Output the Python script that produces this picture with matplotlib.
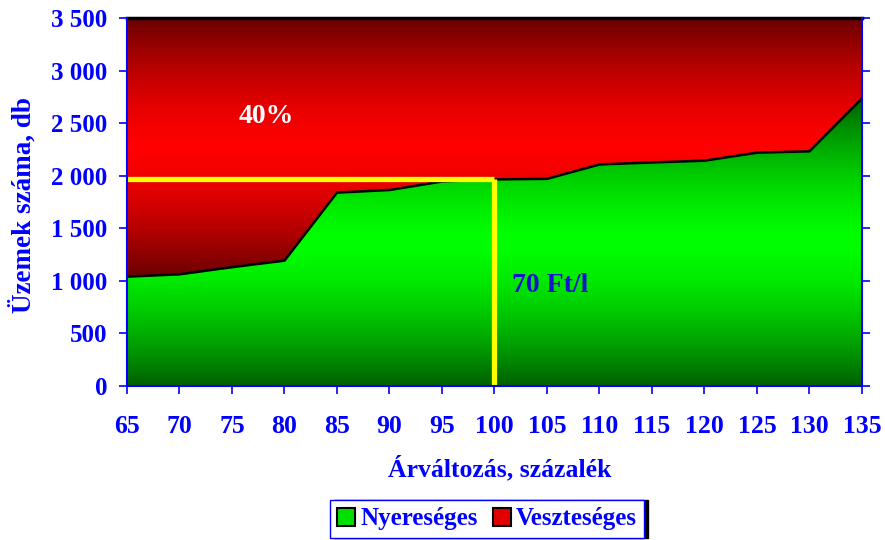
import numpy as np
import matplotlib
matplotlib.use("Agg")
import matplotlib.pyplot as plt
from matplotlib.patches import Patch
from matplotlib.ticker import FuncFormatter

# ---- data ----
price_change = [65, 70, 75, 80, 85, 90, 95, 100, 105, 110, 115, 120, 125, 130, 135]
nyereseges = [1040, 1062, 1130, 1192, 1839, 1864, 1945, 1965, 1970, 2107, 2126, 2143, 2219, 2232, 2735]
total = 3500
veszteseges = [total - v for v in nyereseges]
y_ticks = [0, 500, 1000, 1500, 2000, 2500, 3000, 3500]
ref_x = 100
ref_y = 1968
label_40 = "40%"
label_70 = "70 Ft/l"
series_names = ["Nyereséges", "Veszteséges"]

plt.rcParams['font.family'] = ['Liberation Serif', 'DejaVu Serif']
plt.rcParams['font.weight'] = 'bold'
BLUE = '#0000ff'

fig = plt.figure(figsize=(8.85, 5.4), dpi=100)
ax = fig.add_axes([0.1435, 0.2852, 0.8305, 0.6815])

x = np.array(price_change, dtype=float)
g = np.array(nyereseges, dtype=float)
top = g + np.array(veszteseges, dtype=float)


def gradient_img(dark, bright, n=256, power=1.5):
    t = np.linspace(0, 1, n)
    f = 1 - np.abs(2 * t - 1) ** power
    dark = np.array(matplotlib.colors.to_rgb(dark))
    bright = np.array(matplotlib.colors.to_rgb(bright))
    rgb = dark[None, :] + (bright - dark)[None, :] * f[:, None]
    return rgb[:, None, :]


def grad_fill(lower, upper, dark, bright):
    poly = ax.fill_between(x, lower, upper, facecolor='none', edgecolor='none')
    path = poly.get_paths()[0]
    ymin = float(np.min(lower))
    ymax = float(np.max(upper))
    im = ax.imshow(gradient_img(dark, bright), extent=[x[0], x[-1], ymin, ymax],
                   origin='lower', aspect='auto', zorder=1, interpolation='bilinear')
    im.set_clip_path(path, transform=ax.transData)


grad_fill(np.zeros_like(g), g, '#006000', '#00ff00')
grad_fill(g, top, '#6a0000', '#ff0000')

ax.plot(x, g, color='black', lw=1.8, zorder=3)

ax.plot([x[0], ref_x], [ref_y, ref_y], color='#ffff00', lw=3.8, zorder=4,
        solid_joinstyle='miter', solid_capstyle='butt')
ax.plot([ref_x, ref_x], [0, ref_y], color='#ffff00', lw=3.8, zorder=4,
        solid_capstyle='butt')

ax.set_xlim(x[0], x[-1])
ax.set_ylim(0, total)
ax.set_xticks(price_change)
ax.set_yticks(y_ticks)
ax.yaxis.set_major_formatter(FuncFormatter(lambda v, p: f"{int(v):,}".replace(",", " ")))

ax.text(78.3, 2560, label_40, color='white', fontsize=20, fontweight='bold',
        ha='center', va='center', zorder=5)
ax.text(105.3, 960, label_70, color='#1414c8', fontsize=20, fontweight='bold',
        ha='center', va='center', zorder=5)

for side in ['left', 'bottom', 'right']:
    ax.spines[side].set_color(BLUE)
    ax.spines[side].set_linewidth(1.5)
    ax.spines[side].set_zorder(6)
ax.spines['top'].set_color('black')
ax.spines['top'].set_linewidth(2.5)

ax.tick_params(axis='y', which='both', direction='out', length=6, width=1.2,
               color=BLUE, labelcolor=BLUE, labelsize=18, pad=8,
               right=True, left=True)
ax.tick_params(axis='x', direction='out', length=6, width=1.2, color=BLUE,
               labelcolor=BLUE, labelsize=18.5, pad=15)

fig.text(0.026, 0.620, "Üzemek száma, db", color=BLUE, fontsize=19.5, fontweight='bold',
         rotation=90, ha='center', va='center')
fig.text(0.565, 0.1333, "Árváltozás, százalék", color=BLUE, fontsize=18.5, fontweight='bold',
         ha='center', va='center')

handles = [Patch(facecolor='#00e000', edgecolor='black', lw=1.5),
           Patch(facecolor='#e00000', edgecolor='black', lw=1.5)]
leg = fig.legend(handles, series_names, loc='upper center', bbox_to_anchor=(0.5503, 0.0741),
                 ncol=2, frameon=True, fancybox=False, handlelength=0.72, handleheight=0.72,
                 handletextpad=0.2, columnspacing=0.6, borderpad=0.3, borderaxespad=0,
                 prop={'family': 'Liberation Serif', 'weight': 'bold', 'size': 18},
                 shadow={'color': 'black', 'alpha': 1.0, 'ox': 3, 'oy': 0})
leg.get_frame().set_edgecolor(BLUE)
leg.get_frame().set_linewidth(1.0)
for t in leg.get_texts():
    t.set_color(BLUE)

fig.savefig("out.png", dpi=100)
